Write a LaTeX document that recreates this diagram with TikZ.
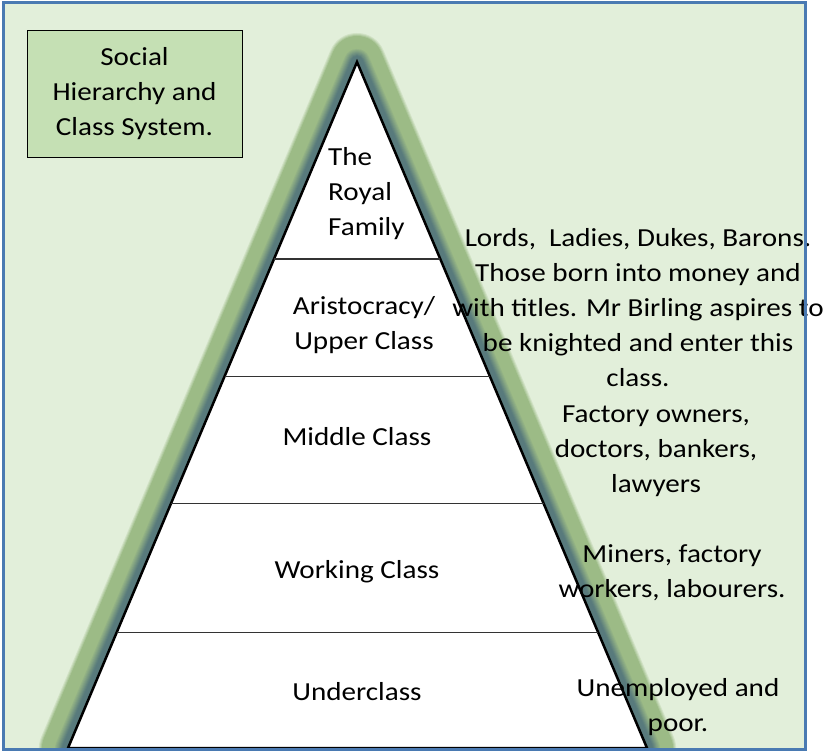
\documentclass[tikz,border=0pt]{standalone}
\usepackage{fontspec}
\setmainfont[FakeStretch=1.12]{Carlito}
\usetikzlibrary{calc}
\definecolor{pagegreen}{HTML}{E2EFDA}
\definecolor{titlegreen}{HTML}{C5E0B4}
\definecolor{framecol}{HTML}{4A7AB2}
\definecolor{glowgreen}{HTML}{9CBB86}
\definecolor{glowteal}{HTML}{587A7C}
\tikzstyle{every node}=[inner sep=0pt, font=\fontsize{26}{35}\selectfont]
\tikzstyle{classtext}=[align=center]
\tikzstyle{notetext}=[align=center]
\tikzstyle{divider}=[line width=1.3pt, black!80]

\begin{document}
\begin{tikzpicture}[x=1pt, y=-1pt]
\useasboundingbox (0,0) rectangle (825,752);
%background
\fill[pagegreen] (3,3) rectangle (805,749);
%corners of the pyramid
\coordinate (apex) at (357,62);
\coordinate (bl) at (68,748);
\coordinate (br) at (647,748);
%glow
\begin{scope}
\clip (3,3) rectangle (805,749);
\foreach \i in {0,...,25}{
	\pgfmathsetmacro\w{60-2*\i}
	\pgfmathtruncatemacro\g{min(100,\i*25)}
	\pgfmathtruncatemacro\tl{max(0,min(100,(\i-16)*13))}
	\draw[line width=\w pt, glowteal!\tl!glowgreen!\g!pagegreen, line join=round]
	(apex) -- (bl) -- (br) -- cycle;
}
\end{scope}
%pyramid
\draw[line width=2.5pt, fill=white, line join=miter] (apex) -- (bl) -- (br) -- cycle;
\foreach \t in {0.287,0.458,0.644,0.832}
\draw[divider] ($(apex)!\t!(bl)$) -- ($(apex)!\t!(br)$);
%classes
\node[align=left, anchor=west] (royal) at (328,194) {The\\Royal\\Family};
\node[classtext] (upper) at (364,325) {Aristocracy/\\Upper Class};
\node[classtext] (middle) at (357,437) {Middle Class};
\node[classtext] (working) at (357,572) {Working Class};
\node[classtext] (under) at (357,692) {Underclass};
%notes
\node[notetext] (lords) at (638,308) {Lords,~ Ladies, Dukes, Barons.\\Those born into money and\\with titles. Mr Birling aspires to\\be knighted and enter this\\class.};
\node[notetext] (factory) at (656,451) {Factory owners,\\doctors, bankers,\\lawyers};
\node[notetext] (miners) at (672,573) {Miners, factory\\workers, labourers.};
\node[notetext] (unemployed) at (678,707) {Unemployed and\\poor.};
%title
\node[draw=black, line width=1pt, fill=titlegreen, minimum width=215, minimum height=126, align=center] (title) at (134.5,94) {Social\\Hierarchy and\\Class System.};
%frame
\draw[framecol, line width=3pt] (3,3) rectangle (805,749);
\end{tikzpicture}
\end{document}
